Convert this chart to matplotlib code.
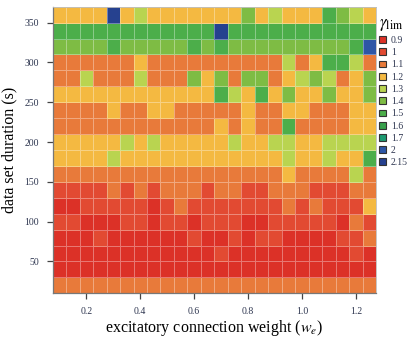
import numpy as np
import matplotlib
matplotlib.use("Agg")
import matplotlib.pyplot as plt
from matplotlib.colors import ListedColormap, BoundaryNorm
from matplotlib.patches import Patch

plt.rcParams["font.family"] = ["Liberation Serif", "DejaVu Serif"]
plt.rcParams["mathtext.fontset"] = "stix"

# excitatory weights (columns) and data set durations (rows)
weights = [0.10, 0.15, 0.20, 0.25, 0.30, 0.35, 0.40, 0.45, 0.50, 0.55, 0.60, 0.65,
           0.70, 0.75, 0.80, 0.85, 0.90, 0.95, 1.00, 1.05, 1.10, 1.15, 1.20, 1.25]
durations = [360, 340, 320, 300, 280, 260, 240, 220, 200, 180,
             160, 140, 120, 100, 80, 60, 40, 20]

# discrete gamma_lim levels and their colours
levels = [0.9, 1, 1.1, 1.2, 1.3, 1.4, 1.5, 1.6, 1.7, 2, 2.15]
level_labels = ["0.9", "1", "1.1", "1.2", "1.3", "1.4", "1.5", "1.6", "1.7", "2", "2.15"]
level_colors = ["#dc3127", "#e24a32", "#e87a3a", "#f4b941", "#b9d450", "#7ebc44",
                "#4cae4a", "#38a04c", "#1c9a70", "#2d56a6", "#26418f"]

# gamma_lim per duration row (top row = longest duration)
gamma_lim = [
    [1.2, 1.2, 1.2, 1.2, 2.15, 1.2, 1.3, 1.2, 1.2, 1.2, 1.2, 1.2, 1.2, 1.2, 1.4, 1.2, 1.3, 1.2, 1.2, 1.2, 1.5, 1.4, 1.3, 1.2],
    [1.5, 1.5, 1.5, 1.5, 1.5, 1.5, 1.5, 1.5, 1.5, 1.5, 1.5, 1.5, 2.15, 1.5, 1.5, 1.5, 1.5, 1.5, 1.5, 1.5, 1.5, 1.5, 1.5, 1.5],
    [1.4, 1.4, 1.4, 1.4, 1.5, 1.4, 1.4, 1.4, 1.4, 1.4, 1.5, 1.4, 1.5, 1.4, 1.4, 1.4, 1.4, 1.4, 1.4, 1.4, 1.4, 1.4, 1.5, 2],
    [1.1, 1.1, 1.1, 1.1, 1.1, 1.1, 1.2, 1.1, 1.1, 1.1, 1.1, 1.1, 1.1, 1.1, 1.1, 1.1, 1.1, 1.3, 1.1, 1.2, 1.5, 1.5, 1.3, 1.1],
    [1.1, 1.1, 1.3, 1.1, 1.1, 1.1, 1.3, 1.1, 1.1, 1.1, 1.4, 1.2, 1.4, 1.1, 1.4, 1.4, 1.1, 1.2, 1.3, 1.4, 1.3, 1.1, 1.2, 1.4],
    [1.2, 1.2, 1.2, 1.2, 1.2, 1.2, 1.2, 1.2, 1.2, 1.2, 1.2, 1.2, 1.5, 1.3, 1.2, 1.5, 1.2, 1.4, 1.2, 1.2, 1.4, 1.2, 1.2, 1.4],
    [1.1, 1.1, 1.1, 1.1, 1.2, 1.1, 1.1, 1.2, 1.2, 1.1, 1.1, 1.1, 1.1, 1.1, 1.2, 1.1, 1.1, 1.2, 1.2, 1.1, 1.1, 1.1, 1.2, 1.2],
    [1.1, 1.1, 1.1, 1.1, 1.1, 1.1, 1.1, 1.1, 1.1, 1.1, 1.1, 1.1, 1.2, 1.1, 1.2, 1.1, 1.1, 1.5, 1.1, 1.1, 1.1, 1.1, 1.2, 1.2],
    [1.2, 1.2, 1.2, 1.2, 1.2, 1.3, 1.2, 1.3, 1.2, 1.2, 1.2, 1.2, 1.2, 1.3, 1.2, 1.2, 1.3, 1.3, 1.2, 1.2, 1.3, 1.3, 1.3, 1.3],
    [1.2, 1.2, 1.2, 1.2, 1.3, 1.2, 1.2, 1.2, 1.2, 1.2, 1.2, 1.2, 1.2, 1.2, 1.2, 1.2, 1.2, 1.3, 1.2, 1.2, 1.3, 1.2, 1.2, 1.5],
    [1.1, 1.1, 1.1, 1.1, 1.1, 1.1, 1.1, 1.1, 1.1, 1.1, 1.1, 1.1, 1.1, 1.1, 1.1, 1.1, 1.1, 1.2, 1.1, 1.1, 1.1, 1.1, 1.3, 1.1],
    [1, 1, 1, 1, 1.1, 1, 1.1, 1, 1.1, 1.1, 1.1, 1, 1.1, 1.1, 1, 1, 1.1, 1.1, 1.1, 1, 1, 1, 1.1, 1.1],
    [0.9, 0.9, 1, 1, 1, 1, 1, 0.9, 1, 1.1, 1, 1, 1, 1, 1, 1, 1, 1.1, 1, 1.1, 1, 1, 1, 1.2],
    [1, 1, 0.9, 0.9, 0.9, 1, 1, 0.9, 1, 1, 0.9, 1, 1, 1, 0.9, 0.9, 1, 1, 1, 1, 1, 0.9, 1.1, 1],
    [0.9, 0.9, 0.9, 1, 0.9, 0.9, 0.9, 0.9, 0.9, 0.9, 1, 0.9, 0.9, 1, 0.9, 1, 1, 0.9, 0.9, 0.9, 0.9, 1, 1, 1.1],
    [0.9, 0.9, 0.9, 0.9, 0.9, 0.9, 0.9, 0.9, 0.9, 0.9, 0.9, 0.9, 1, 0.9, 0.9, 0.9, 0.9, 0.9, 0.9, 0.9, 0.9, 0.9, 1, 0.9],
    [0.9, 0.9, 0.9, 0.9, 0.9, 0.9, 0.9, 0.9, 0.9, 0.9, 0.9, 0.9, 0.9, 0.9, 0.9, 0.9, 0.9, 0.9, 0.9, 0.9, 0.9, 0.9, 0.9, 0.9],
    [1.1, 1.1, 1.1, 1.1, 1.1, 1.1, 1.1, 1.1, 1.1, 1.1, 1.1, 1.1, 1.1, 1.1, 1.1, 1.1, 1.1, 1.1, 1.1, 1.1, 1.1, 1.1, 1.1, 1.1],
]

# map each value onto its category index
level_index = {v: i for i, v in enumerate(levels)}
codes = np.array([[level_index[v] for v in row] for row in gamma_lim])

w = np.array(weights)
d = np.array(durations)
dw = 0.05
dd = 20
x_edges = np.concatenate([w - dw / 2, [w[-1] + dw / 2]])
order = np.argsort(d)
d_sorted = d[order]
codes_sorted = codes[order]
y_edges = np.concatenate([d_sorted - dd / 2, [d_sorted[-1] + dd / 2]])

cmap = ListedColormap(level_colors)
norm = BoundaryNorm(np.arange(-0.5, len(levels) + 0.5), cmap.N)

fig = plt.figure(figsize=(4.16, 3.40), dpi=100)
ax = fig.add_axes([0.1267, 0.1373, 0.7773, 0.8430])
ax.pcolormesh(x_edges, y_edges, codes_sorted, cmap=cmap, norm=norm,
              edgecolors=(1, 1, 1, 0.35), linewidth=0.6)
ax.set_xlim(x_edges[0], x_edges[-1])
ax.set_ylim(y_edges[0], y_edges[-1])

tick_color = "#2e3650"
ax.set_xticks([0.2, 0.4, 0.6, 0.8, 1.0, 1.2])
ax.set_xticklabels(["0.2", "0.4", "0.6", "0.8", "1.0", "1.2"])
ax.set_yticks([50, 100, 150, 200, 250, 300, 350])
ax.tick_params(axis="both", direction="out", length=4, width=0.9,
               labelsize=7, colors="#444444", labelcolor=tick_color, pad=6)
for side in ["left", "bottom"]:
    ax.spines[side].set_color("#777777")
    ax.spines[side].set_linewidth(0.9)
for side in ["top", "right"]:
    ax.spines[side].set_color("#bbbbbb")
    ax.spines[side].set_linewidth(0.6)

ax.set_xlabel(r"excitatory connection weight ($w_e$)", fontsize=11.5, labelpad=1)
ax.set_ylabel("data set duration (s)", fontsize=11.5, labelpad=5)

handles = [Patch(facecolor=c, edgecolor="#333333", linewidth=0.8) for c in level_colors]
leg = fig.legend(handles, level_labels, loc="upper left",
                 bbox_to_anchor=(0.907, 0.962), frameon=False,
                 title=r"$\gamma_{\rm lim}$", title_fontsize=12, fontsize=7,
                 handlelength=0.7, handleheight=0.7, handletextpad=0.5,
                 labelspacing=0.33, borderaxespad=0.0, borderpad=0.2)
leg._legend_box.align = "left"
for t in leg.get_texts():
    t.set_color(tick_color)

fig.savefig("out.png", dpi=100)
